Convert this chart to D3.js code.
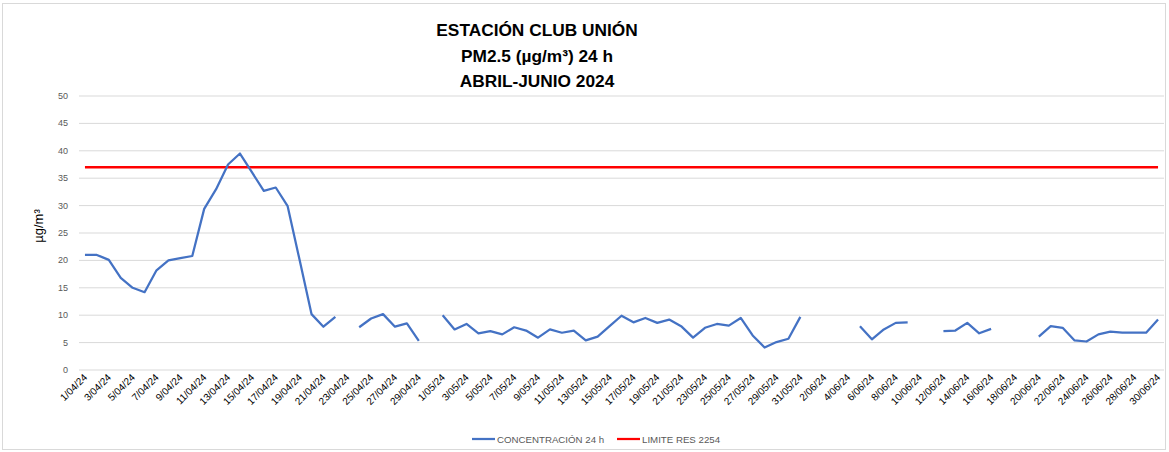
<!DOCTYPE html>
<html>
<head>
<meta charset="utf-8">
<title>Estacion Club Union PM2.5</title>
<style>
body {
	margin: 0;
	background: #ffffff;
}
svg text {
	font-family: "Liberation Sans", Arial, sans-serif;
}
</style>
<script src="https://d3js.org/d3.v7.min.js"></script>
</head>
<body>
<svg id="chart" width="1169" height="452"></svg>
<script>
// days in the period, 1/04/24 .. 30/06/24
var months = [["04", 30], ["05", 31], ["06", 30]];
var dates = [];
months.forEach(function(m) {
	for (var d = 1; d <= m[1]; d++) dates.push(d + "/" + m[0] + "/24");
});

// daily concentration, null = no data
var april = [21.0, 21.0, 20.1, 16.8, 15.0, 14.2, 18.2, 20.0, 20.4, 20.8,
	29.4, 33.0, 37.5, 39.5, 36.1, 32.7, 33.3, 29.9, 20.1, 10.2,
	7.9, 9.7, null, 7.8, 9.4, 10.2, 7.9, 8.5, 5.3, null];
var may = [10.0, 7.4, 8.4, 6.7, 7.1, 6.5, 7.8, 7.2, 5.9, 7.4,
	6.8, 7.2, 5.4, 6.1, 8.0, 9.9, 8.7, 9.5, 8.6, 9.2,
	8.0, 5.9, 7.7, 8.4, 8.1, 9.5, 6.3, 4.1, 5.1, 5.7, 9.7];
var june = [null, null, null, null, 8.0, 5.6, 7.4, 8.6, 8.7, null,
	null, 7.1, 7.2, 8.6, 6.7, 7.5, null, null, null, 6.1,
	8.0, 7.7, 5.4, 5.2, 6.5, 7.0, 6.8, 6.8, 6.8, 9.2];
var concentration = april.concat(may, june);
var limit = 37;
var yTicks = [0, 5, 10, 15, 20, 25, 30, 35, 40, 45, 50];
var titles = ["ESTACIÓN CLUB UNIÓN", "PM2.5 (µg/m³) 24 h", "ABRIL-JUNIO 2024"];
var legendItems = [["CONCENTRACIÓN 24 h", "#4472c4"], ["LIMITE RES 2254", "#ff0000"]];

var svg = d3.select("#chart");

// outer frame
svg.append("rect")
	.attr("x", 2.5).attr("y", 3.5)
	.attr("width", 1163).attr("height", 446)
	.attr("fill", "none")
	.attr("stroke", "#d9d9d9");

var x = d3.scaleBand().domain(d3.range(dates.length)).range([79, 1164]);
var cx = function(i) { return x(i) + x.bandwidth() / 2; };
var y = d3.scaleLinear().domain([0, 50]).range([370, 96]);

// gridlines
svg.append("g").selectAll("line")
	.data(yTicks)
	.join("line")
	.attr("x1", 79).attr("x2", 1164)
	.attr("y1", function(d) { return y(d); })
	.attr("y2", function(d) { return y(d); })
	.attr("stroke", "#d9d9d9")
	.attr("stroke-width", 1);

// y tick labels
svg.append("g").selectAll("text")
	.data(yTicks)
	.join("text")
	.attr("x", 68)
	.attr("y", function(d) { return y(d) + 3; })
	.attr("text-anchor", "end")
	.attr("font-size", 9)
	.attr("fill", "#595959")
	.text(function(d) { return d; });

// y axis title
svg.append("text")
	.attr("transform", "translate(43,226) rotate(-90)")
	.attr("text-anchor", "middle")
	.attr("font-size", 13)
	.attr("fill", "#000")
	.text("µg/m³");

// x tick labels (every second day)
svg.append("g").selectAll("text")
	.data(d3.range(0, dates.length, 2))
	.join("text")
	.attr("transform", function(i) { return "translate(" + (cx(i) + 3) + ",378) rotate(-45)"; })
	.attr("text-anchor", "end")
	.attr("font-size", 10)
	.attr("fill", "#000")
	.text(function(i) { return dates[i]; });

// limit line
svg.append("line")
	.attr("x1", cx(0)).attr("x2", cx(dates.length - 1))
	.attr("y1", y(limit)).attr("y2", y(limit))
	.attr("stroke", "#ff0000")
	.attr("stroke-width", 2.5);

// concentration line, broken at missing days
var line = d3.line()
	.defined(function(d) { return d != null; })
	.x(function(d, i) { return cx(i); })
	.y(function(d) { return y(d); });

svg.append("path")
	.datum(concentration)
	.attr("d", line)
	.attr("fill", "none")
	.attr("stroke", "#4472c4")
	.attr("stroke-width", 2.25)
	.attr("stroke-linejoin", "round");

// title
var titleY = [36, 62, 87];
svg.append("g").selectAll("text")
	.data(titles)
	.join("text")
	.attr("x", 537)
	.attr("y", function(d, i) { return titleY[i]; })
	.attr("text-anchor", "middle")
	.attr("font-size", 17.3)
	.attr("font-weight", "bold")
	.attr("fill", "#000")
	.text(function(d) { return d; });

// legend
var lg = svg.append("g");
var lx = [472, 617];
legendItems.forEach(function(it, i) {
	lg.append("line")
		.attr("x1", lx[i]).attr("x2", lx[i] + 23)
		.attr("y1", 439).attr("y2", 439)
		.attr("stroke", it[1])
		.attr("stroke-width", 2.25);
	lg.append("text")
		.attr("x", lx[i] + 25)
		.attr("y", 442.5)
		.attr("font-size", 9.7)
		.attr("fill", "#595959")
		.text(it[0]);
});
</script>
</body>
</html>
